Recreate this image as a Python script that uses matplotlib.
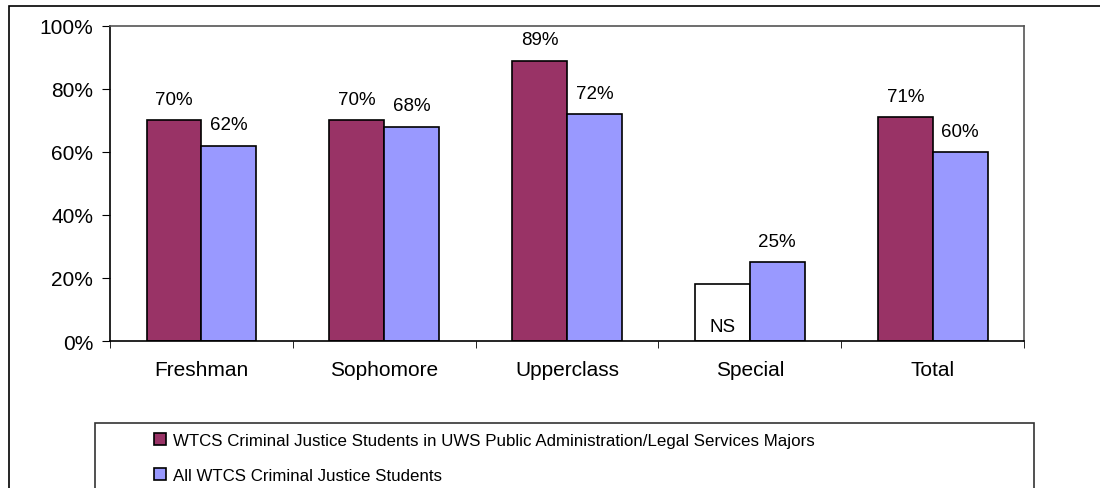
import numpy as np
import matplotlib.pyplot as plt
from matplotlib.patches import Rectangle

plt.rcParams['font.family'] = ['Liberation Sans', 'DejaVu Sans']

categories = ['Freshman', 'Sophomore', 'Upperclass', 'Special', 'Total']
uws_majors = [70, 70, 89, 18, 71]
all_students = [62, 68, 72, 25, 60]
uws_labels = ['70%', '70%', '89%', 'NS', '71%']
all_labels = ['62%', '68%', '72%', '25%', '60%']
ns_index = 3

maroon = '#993366'
blue = '#9999FF'

fig = plt.figure(figsize=(11, 4.89), dpi=100)
ax = fig.add_axes([0.1, 0.3006, 0.831, 0.6444])

x = np.arange(len(categories))
w = 0.3
cols = [maroon] * len(categories)
cols[ns_index] = 'white'
b1 = ax.bar(x - w / 2, uws_majors, w, color=cols, edgecolor='black', linewidth=1.2)
b2 = ax.bar(x + w / 2, all_students, w, color=blue, edgecolor='black', linewidth=1.2)

for i in range(len(categories)):
    if i == ns_index:
        ax.text(x[i] - w / 2, 2, uws_labels[i], ha='center', va='bottom', fontsize=13.5)
    else:
        ax.annotate(uws_labels[i], (x[i] - w / 2, uws_majors[i]), xytext=(0, 15),
                    textcoords='offset points', ha='center', va='center', fontsize=13.5)
    ax.annotate(all_labels[i], (x[i] + w / 2, all_students[i]), xytext=(0, 15),
                textcoords='offset points', ha='center', va='center', fontsize=13.5)

ax.set_xlim(-0.5, len(categories) - 0.5)
ax.set_ylim(0, 100)
ax.set_yticks(range(0, 101, 20))
ax.set_yticklabels(['%d%%' % v for v in range(0, 101, 20)], fontsize=15)
ax.set_xticks(x)
ax.set_xticklabels(categories, fontsize=15)
ax.tick_params(axis='x', length=0, pad=14)
ax.set_xticks(np.arange(-0.5, len(categories), 1), minor=True)
ax.tick_params(axis='x', which='minor', length=5, direction='out')
ax.tick_params(axis='y', length=6, direction='out', pad=6)
for s in ax.spines.values():
    s.set_linewidth(1.2)
ax.spines['right'].set_color('#555555')
ax.spines['top'].set_color('#555555')

# outer chart frame
fig.patches.append(Rectangle((9 / 1100, -0.1), 1.2, (489 - 7) / 489 + 0.1, transform=fig.transFigure,
                             fill=False, edgecolor='black', linewidth=1.2))
# legend frame
fig.patches.append(Rectangle((95 / 1100, -0.1), (1034 - 95) / 1100, (489 - 424) / 489 + 0.1,
                             transform=fig.transFigure, fill=False, edgecolor='#333333', linewidth=1.2))

leg = fig.legend([b1[0], b2[0]],
                 ['WTCS Criminal Justice Students in UWS Public Administration/Legal Services Majors',
                  'All WTCS Criminal Justice Students'],
                 loc='upper left', bbox_to_anchor=(154 / 1100, (489 - 434) / 489),
                 frameon=False, fontsize=12.2,
                 handlelength=0.7, handleheight=0.7, handletextpad=0.45,
                 borderpad=0, labelspacing=1.2, borderaxespad=0)
leg.legend_handles[0].set_facecolor(maroon)

plt.savefig('out.png', dpi=100)
